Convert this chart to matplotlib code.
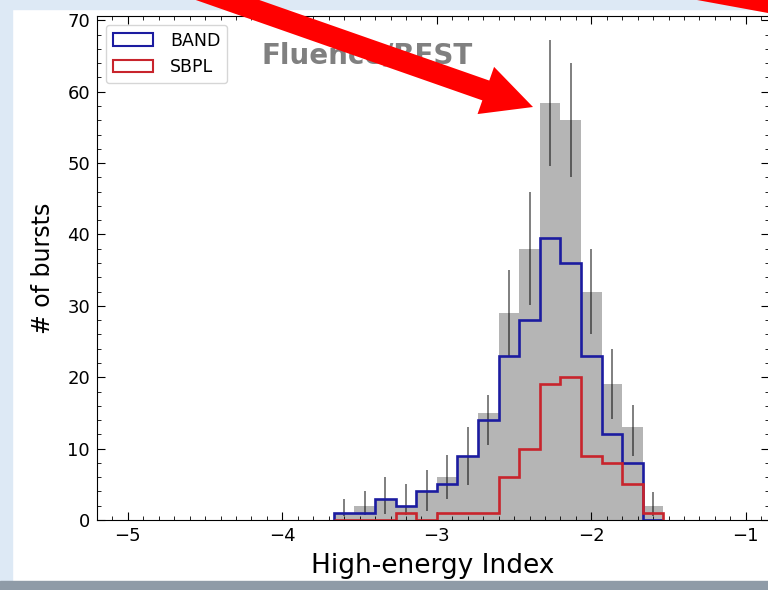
import numpy as np
import matplotlib
matplotlib.use('Agg')
import matplotlib.pyplot as plt
from matplotlib.patches import Patch, Polygon, Rectangle, FancyArrow
from matplotlib.ticker import MultipleLocator
from matplotlib.transforms import Affine2D

# histogram bins (16 bins of width 4/30 between -3.667 and -1.533)
edges = np.linspace(-5, -1, 31)[10:27]

# all bursts (gray bars) and their error bar ranges
total = [1, 2, 3, 2, 4, 6, 9, 15, 29, 38, 58.4, 56, 32, 19, 13, 2]
err_lo = [0.5, 0.7, 0.9, 0.7, 1.2, 3.0, 4.9, 10.5, 22.9, 30.1, 49.6, 48.1, 26.1, 14.2, 8.9, 0.5]
err_hi = [3.0, 4.0, 6.0, 5.0, 7.0, 9.1, 13.0, 17.5, 35.0, 45.9, 67.3, 64.0, 38.0, 24.0, 16.1, 3.9]

# best fit model counts
band = [1, 1, 3, 2, 4, 5, 9, 14, 23, 28, 39.5, 36, 23, 12, 8, 0]
sbpl = [0, 0, 0, 1, 0, 1, 1, 1, 6, 10, 19, 20, 9, 8, 5, 1]

series_names = ['BAND', 'SBPL']
blue = '#1c1ca0'
red = '#c8242c'

W, H = 768, 590
fig = plt.figure(figsize=(W / 100, H / 100), dpi=100)

# pixel transform with origin at top-left (screenshot coordinates)
px = Affine2D().scale(1.0 / W, -1.0 / H).translate(0, 1) + fig.transFigure

# slide background strips
fig.patches.append(Rectangle((0, 0), W, 9, transform=px, color='#dde9f5', zorder=0))
fig.patches.append(Rectangle((0, 0), 12, H, transform=px, color='#dde9f5', zorder=0))
fig.patches.append(Rectangle((0, 581), W, 9, transform=px, color='#8f9ba7', zorder=0))

ax = fig.add_axes([97 / W, 70 / H, 672 / W, 504 / H])

centers = (edges[:-1] + edges[1:]) / 2
ax.bar(centers, total, width=np.diff(edges), color='#b5b5b5', zorder=1)
ax.vlines(centers, err_lo, err_hi, color='k', alpha=0.5, lw=1.4, zorder=2)
ax.stairs(band, edges, color=blue, lw=1.9, zorder=3)
ax.stairs(sbpl, edges, color=red, lw=1.9, zorder=3)

ax.set_xlim(-5.2, -0.85)
ax.set_ylim(0, 70.6)
ax.xaxis.set_major_locator(MultipleLocator(1))
ax.xaxis.set_minor_locator(MultipleLocator(0.1))
ax.yaxis.set_major_locator(MultipleLocator(10))
ax.yaxis.set_minor_locator(MultipleLocator(2))
ax.tick_params(which='both', direction='in', top=True, right=True, labelsize=13)
ax.tick_params(which='major', length=6, pad=5)
ax.tick_params(which='minor', length=3)

ax.set_xlabel('High-energy Index', fontsize=19, labelpad=6)
ax.set_ylabel('# of bursts', fontsize=17, labelpad=9)

handles = [Patch(facecolor='none', edgecolor=blue, lw=1.5),
           Patch(facecolor='none', edgecolor=red, lw=1.5)]
ax.legend(handles, series_names, loc='upper left', fontsize=12.5,
          handlelength=2.3, handletextpad=1.0)

# slide title text and red arrows drawn on top
fig.text(262, 63, 'Fluence/BEST', transform=px, fontsize=20, fontweight='bold',
         color='#808080', zorder=5)
fig.patches.append(FancyArrow(199, -10, 334, 117, width=21, head_width=50,
                              head_length=50, length_includes_head=True,
                              transform=px, color='#ff0000', lw=0, zorder=6))
fig.patches.append(Polygon([(697, 0), (768, 13), (768, 0)], closed=True,
                           transform=px, color='#ff0000', lw=0, zorder=6))

fig.savefig('out.png', dpi=100)
